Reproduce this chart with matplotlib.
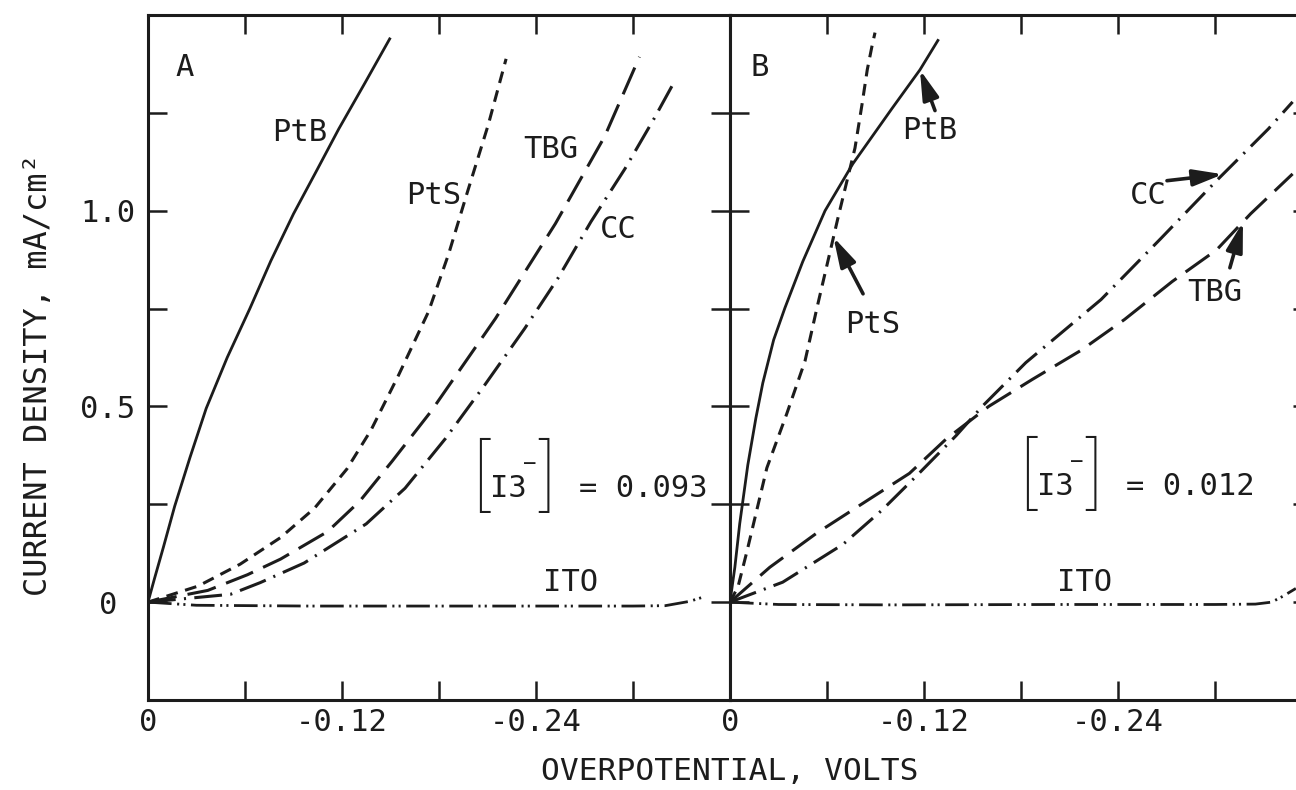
import numpy as np
import matplotlib
matplotlib.use("Agg")
import matplotlib.pyplot as plt
from matplotlib.ticker import FixedLocator, FuncFormatter

plt.rcParams["font.family"] = ["DejaVu Sans Mono", "DejaVu Sans"]
plt.rcParams["axes.unicode_minus"] = False
plt.rcParams["lines.scale_dashes"] = False

INK = "#1c1c1c"

# Panel A, [I3-] = 0.093 : overpotential (V) vs current density (mA/cm2)
ptb_a_v = [0, -0.004, -0.0095, -0.0165, -0.026, -0.036, -0.049, -0.063, -0.076, -0.090,
           -0.104, -0.118, -0.134, -0.1495]
ptb_a_j = [0, 0.06, 0.14, 0.245, 0.37, 0.495, 0.625, 0.75, 0.872, 0.992,
           1.10, 1.209, 1.325, 1.439]

pts_a_v = [0, -0.031, -0.057, -0.082, -0.103, -0.123, -0.138, -0.155, -0.1735, -0.186,
           -0.197, -0.2105, -0.2215]
pts_a_j = [0, 0.041, 0.097, 0.165, 0.24, 0.34, 0.44, 0.58, 0.742, 0.89,
           1.04, 1.22, 1.388]

tbg_a_v = [0, -0.037, -0.0615, -0.082, -0.111, -0.131, -0.151, -0.175, -0.215, -0.252, -0.2825, -0.304]
tbg_a_j = [0, 0.03, 0.07, 0.11, 0.18, 0.258, 0.36, 0.487, 0.725, 0.967, 1.19, 1.393]

cc_a_v = [0, -0.051, -0.0695, -0.0966, -0.135, -0.159, -0.184, -0.2085, -0.233, -0.2535,
          -0.274, -0.295, -0.313, -0.3255]
cc_a_j = [0, 0.02, 0.05, 0.10, 0.20, 0.291, 0.418, 0.556, 0.699, 0.827,
          0.972, 1.107, 1.235, 1.329]

ito_a_v = [0, -0.03, -0.10, -0.20, -0.30, -0.32, -0.335, -0.345]
ito_a_j = [0, -0.008, -0.010, -0.010, -0.010, -0.009, 0.002, 0.015]

# Panel B, [I3-] = 0.012
ptb_b_v = [0, -0.0015, -0.003, -0.006, -0.011, -0.016, -0.0203, -0.027, -0.034, -0.045,
           -0.0588, -0.076, -0.100, -0.1175, -0.1286]
ptb_b_j = [0, 0.045, 0.089, 0.20, 0.35, 0.47, 0.56, 0.67, 0.752, 0.87,
           1.0, 1.12, 1.26, 1.36, 1.435]

pts_b_v = [0, -0.005, -0.0105, -0.0228, -0.035, -0.0464, -0.0538, -0.0606, -0.0668,
           -0.0724, -0.0773, -0.0816, -0.0849, -0.0878, -0.0897]
pts_b_j = [0, 0.04, 0.13, 0.343, 0.48, 0.616, 0.752, 0.872, 0.982,
           1.077, 1.16, 1.27, 1.36, 1.42, 1.455]

tbg_b_v = [0, -0.0246, -0.0535, -0.082, -0.111, -0.1335, -0.16, -0.187, -0.217, -0.244,
           -0.2735, -0.301, -0.322, -0.348]
tbg_b_j = [0, 0.089, 0.176, 0.252, 0.329, 0.416, 0.50, 0.569, 0.643, 0.722,
           0.819, 0.90, 0.992, 1.094]

cc_b_v = [0, -0.0326, -0.070, -0.094, -0.115, -0.140, -0.156, -0.183, -0.2295, -0.2665,
          -0.301, -0.333, -0.348]
cc_b_j = [0, 0.051, 0.148, 0.235, 0.321, 0.426, 0.50, 0.612, 0.773, 0.929,
          1.077, 1.209, 1.278]

ito_b_v = [0, -0.03, -0.10, -0.20, -0.30, -0.325, -0.335, -0.342, -0.35]
ito_b_j = [0, -0.006, -0.007, -0.006, -0.006, -0.005, 0.0, 0.015, 0.035]

x_major = [0, -0.12, -0.24]
x_minor = [-0.06, -0.18, -0.30]
y_major = [0, 0.5, 1.0]
y_minor = [0.25, 0.75, 1.25]

STYLE = {
    "PtB": dict(ls="-", lw=2.0),
    "PtS": dict(ls=(0, (8.5, 5.5)), lw=2.2),
    "TBG": dict(ls=(0, (21, 8)), lw=2.2),
    "CC": dict(ls=(0, (20, 6, 1.5, 6)), lw=2.2),
    "ITO": dict(ls=(0, (17, 4, 1.5, 3, 1.5, 4)), lw=2.0),
}

fig = plt.figure(figsize=(12.96, 7.90), dpi=100)
ax_a = fig.add_axes([148 / 1296, 90 / 790, 582 / 1296, 685 / 790])
ax_b = fig.add_axes([730 / 1296, 90 / 790, 582 / 1296, 685 / 790])

curves_a = {"PtB": (ptb_a_v, ptb_a_j), "PtS": (pts_a_v, pts_a_j), "TBG": (tbg_a_v, tbg_a_j),
            "CC": (cc_a_v, cc_a_j), "ITO": (ito_a_v, ito_a_j)}
curves_b = {"PtB": (ptb_b_v, ptb_b_j), "PtS": (pts_b_v, pts_b_j), "TBG": (tbg_b_v, tbg_b_j),
            "CC": (cc_b_v, cc_b_j), "ITO": (ito_b_v, ito_b_j)}

for ax, curves in ((ax_a, curves_a), (ax_b, curves_b)):
    for name, (v, j) in curves.items():
        ax.plot(v, j, color=INK, solid_joinstyle="round", **STYLE[name])
    ax.set_xlim(0, -0.36)
    ax.set_ylim(-0.25, 1.5)
    ax.xaxis.set_major_locator(FixedLocator(x_major))
    ax.xaxis.set_minor_locator(FixedLocator(x_minor))
    ax.yaxis.set_major_locator(FixedLocator(y_major))
    ax.yaxis.set_minor_locator(FixedLocator(y_minor))
    ax.xaxis.set_major_formatter(FuncFormatter(lambda v, p: "0" if abs(v) < 1e-9 else f"{v:.2f}"))
    ax.yaxis.set_major_formatter(FuncFormatter(lambda v, p: "0" if abs(v) < 1e-9 else f"{v:.1f}"))
    ax.tick_params(which="both", direction="in", top=True, right=True, bottom=True, left=True,
                   length=14, width=1.8, color=INK, labelcolor=INK, labelsize=22)
    ax.tick_params(axis="x", which="both", pad=6)
    ax.tick_params(axis="y", which="both", pad=29)
    for s in ax.spines.values():
        s.set_linewidth(2.2)
        s.set_color(INK)

for lab in ax_a.get_yticklabels():
    lab.set_horizontalalignment("center")
ax_b.tick_params(labelleft=False)

fs = 22
# curve names, centred, on their baselines
labels_a = [("A", -0.0229, 1.345), ("PtB", -0.094, 1.179), ("PtS", -0.1769, 1.018),
            ("TBG", -0.2492, 1.1355), ("CC", -0.2907, 0.931), ("ITO", -0.2616, 0.028)]
labels_b = [("B", -0.0186, 1.345), ("PtB", -0.1237, 1.184), ("PtS", -0.0884, 0.688),
            ("CC", -0.2585, 1.018), ("TBG", -0.2999, 0.770), ("ITO", -0.2195, 0.028)]
for ax, labels in ((ax_a, labels_a), (ax_b, labels_b)):
    for s, x, y in labels:
        ax.text(x, y, s, fontsize=fs, ha="center", va="baseline", color=INK)

# arrows in panel B: label tail -> point on the curve
arrows_b = [("PtB", (-0.1268, 1.2558), -0.1175),
            ("PtS", (-0.0823, 0.7877), -0.064),
            ("CC", (-0.2703, 1.0767), -0.3049),
            ("TBG", (-0.3092, 0.8542), -0.3173)]
for name, tail, head_v in arrows_b:
    v, j = curves_b[name]
    head_j = np.interp(-head_v, -np.asarray(v), np.asarray(j))
    ax_b.annotate("", xy=(head_v, head_j), xytext=tail,
                  arrowprops=dict(arrowstyle="-|>,head_length=0.9,head_width=0.25",
                                  lw=2.6, color=INK, shrinkA=0, shrinkB=0, mutation_scale=20))


def conc_label(ax, v, j, value):
    # [I3-] = value, anchored at the left bracket and the text baseline (offsets in px)
    def put(s, dx, dy, **kw):
        ax.annotate(s, xy=(v, j), xytext=(dx * 0.72, dy * 0.72), textcoords="offset points",
                    color=INK, **kw)
    bracket = dict(fontsize=56, va="center", family=["Roboto", "DejaVu Sans"], fontweight="light")
    put("[", 7, 18, ha="right", **bracket)
    put("I3", 8, 0, fontsize=fs, ha="left", va="baseline")
    put("\u2212", 48, 33, fontsize=16, ha="center", va="center")
    put("]", 56, 18, ha="left", **bracket)
    put(f"= {value}", 97, 0, fontsize=fs, ha="left", va="baseline")


conc_label(ax_a, -0.2066, 0.2685, "0.093")
conc_label(ax_b, -0.1849, 0.2737, "0.012")

fig.text(39 / 1296, 1 - 375 / 790, "CURRENT DENSITY, mA/cm\u00b2", rotation=90,
         ha="center", va="center", fontsize=23, color=INK)
fig.text(730 / 1296, 1 - 771 / 790, "OVERPOTENTIAL, VOLTS", ha="center", va="center",
         fontsize=22.5, color=INK)

fig.savefig("out.png", dpi=100)
